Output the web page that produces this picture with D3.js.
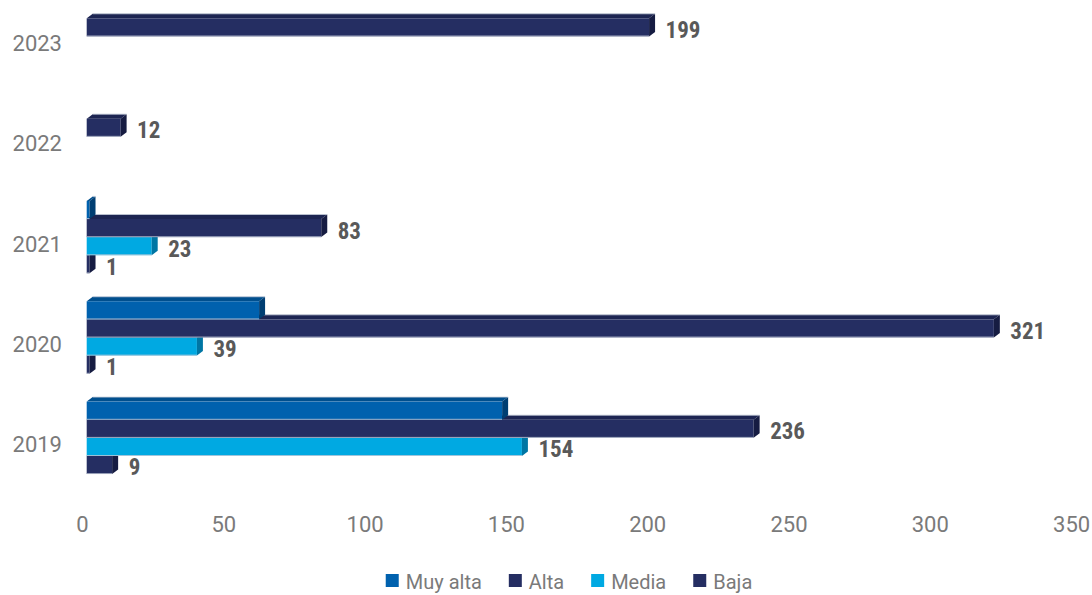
<!DOCTYPE html>
<html>
<head>
<meta charset="utf-8">
<script src="https://cdn.jsdelivr.net/npm/d3@7"></script>
<style>
	body { margin: 0; background: #fff; }
	.tick-label { font-family: Roboto, 'Open Sans', sans-serif; font-size: 22px; fill: #7a7a7a; }
	.value-label { font-family: 'Liberation Sans Narrow', 'Roboto Condensed', 'Arial Narrow', sans-serif; font-size: 23px; font-weight: bold; fill: #595959; }
	.legend-label { font-family: Roboto, 'Open Sans', sans-serif; font-size: 20px; fill: #7a7a7a; }
</style>
</head>
<body>
<div id="chart"></div>
<script>
// categories, bottom to top
const years = ['2019', '2020', '2021', '2022', '2023'];
const seriesNames = ['Muy alta', 'Alta', 'Media', 'Baja'];

// values per series, in the order of years (null = no bar)
const muyAlta = [147, 61, 1, null, null];
const alta = [236, 321, 83, 12, 199];
const media = [154, 39, 23, null, null];
const baja = [9, 1, 1, null, null];

const xTicks = [0, 50, 100, 150, 200, 250, 300, 350];

// front / top / side colour of each series
const faceColors = {
	'Muy alta': { front: '#0061ae', top: '#004f8e', side: '#003e72' },
	'Alta': { front: '#252e62', top: '#1d2552', side: '#161c42' },
	'Media': { front: '#00a9e2', top: '#0091c6', side: '#0076a4' },
	'Baja': { front: '#252e62', top: '#1d2552', side: '#161c42' }
};
const showLabel = { 'Muy alta': false, 'Alta': true, 'Media': true, 'Baja': true };

const seriesValues = { 'Muy alta': muyAlta, 'Alta': alta, 'Media': media, 'Baja': baja };

const width = 1092;
const height = 595;
const depthX = 6; // 3d offset of the back plane
const depthY = 4.5;
const frontShift = 4.2; // bars sit slightly right of the floor labels

const svg = d3
	.select('#chart')
	.append('svg')
	.attr('width', width)
	.attr('height', height);

const x = d3.scaleLinear().domain([0, 350]).range([82.5, 1071.6]);

const yCenter = d3.scalePoint().domain(years).range([437.8, 36.4]);

const inner = d3.scaleBand().domain(seriesNames).range([-36.2, 36.2]);

// flatten to one record per bar, drawn bottom bar first so the upper ones cover its top face
const bars = [];
years.forEach((year, i) => {
	seriesNames
		.slice()
		.reverse()
		.forEach((s) => {
			const v = seriesValues[s][i];
			if (v !== null) {
				bars.push({ year: year, series: s, value: v });
			}
		});
});

const barG = svg
	.append('g')
	.selectAll('g')
	.data(bars)
	.enter()
	.append('g')
	.attr('class', 'bar');

barG.each(function (d) {
	const g = d3.select(this);
	const x0 = x(0) + frontShift;
	const x1 = x(d.value) + frontShift;
	const y0 = yCenter(d.year) + inner(d.series);
	const y1 = y0 + inner.bandwidth();
	const c = faceColors[d.series];

	// top face
	g.append('polygon')
		.attr('points', [[x0, y0], [x0 + depthX, y0 - depthY], [x1 + depthX, y0 - depthY], [x1, y0]].join(' '))
		.style('fill', c.top);

	// front face
	g.append('rect')
		.attr('x', x0)
		.attr('y', y0)
		.attr('width', x1 - x0)
		.attr('height', y1 - y0)
		.style('fill', c.front);

	// side face
	g.append('polygon')
		.attr('points', [[x1, y0], [x1 + depthX, y0 - depthY], [x1 + depthX, y1 - depthY], [x1, y1]].join(' '))
		.style('fill', c.side);

	// light edges
	g.append('line')
		.attr('x1', x0 + depthX)
		.attr('x2', x1 + depthX)
		.attr('y1', y0 - depthY)
		.attr('y2', y0 - depthY)
		.style('stroke', '#c3cad8')
		.style('stroke-width', 0.8);
	g.append('line')
		.attr('x1', x0)
		.attr('x2', x1)
		.attr('y1', y1 - 0.4)
		.attr('y2', y1 - 0.4)
		.style('stroke', '#c3cad8')
		.style('stroke-width', 0.8);
});

// value labels
svg.append('g')
	.selectAll('text')
	.data(bars.filter((d) => showLabel[d.series]))
	.enter()
	.append('text')
	.attr('class', 'value-label')
	.attr('x', (d) => x(d.value) + frontShift + 16.5)
	.attr('y', (d) => yCenter(d.year) + inner(d.series) + inner.bandwidth() / 2 + 10.5)
	.text((d) => d.value);

// x axis labels (no line, no ticks)
svg.append('g')
	.selectAll('text')
	.data(xTicks)
	.enter()
	.append('text')
	.attr('class', 'tick-label')
	.attr('x', (d) => x(d))
	.attr('y', 532)
	.attr('text-anchor', 'middle')
	.text((d) => d);

// category labels
svg.append('g')
	.selectAll('text')
	.data(years)
	.enter()
	.append('text')
	.attr('class', 'tick-label')
	.attr('x', 62)
	.attr('y', (d) => yCenter(d) + 14.5)
	.attr('text-anchor', 'end')
	.text((d) => d);

// legend
const legend = svg.append('g');
const items = legend
	.selectAll('g')
	.data(seriesNames)
	.enter()
	.append('g');

items.append('rect')
	.attr('width', 13)
	.attr('height', 13)
	.attr('y', 574)
	.style('fill', (d) => faceColors[d].front);

items.append('text')
	.attr('class', 'legend-label')
	.attr('x', 20)
	.attr('y', 589)
	.text((d) => d);

let cursor = 0;
items.each(function () {
	const g = d3.select(this);
	g.attr('transform', 'translate(' + cursor + ',0)');
	cursor += 20 + g.select('text').node().getComputedTextLength() + 27;
});
const legendWidth = cursor - 27;
legend.attr('transform', 'translate(' + (569 - legendWidth / 2) + ',0)');
</script>
</body>
</html>
